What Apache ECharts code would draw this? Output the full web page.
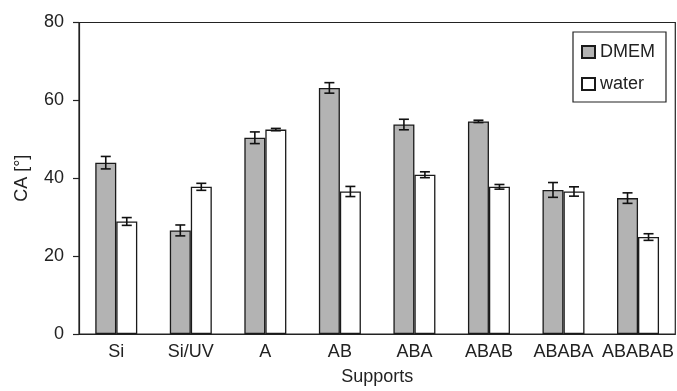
<!DOCTYPE html>
<html>
	<head>
		<meta charset="utf-8" />
		<title>CA</title>
		<style type="text/css">
			html,body{margin:0;padding:0;width:100%;height:100%;background:#fff;}
			#main{width:677px;height:391px;}
		</style>
	</head>
	<body>
		<div id="main"></div>
		<script src="https://cdn.jsdelivr.net/npm/echarts@6/dist/echarts.min.js"></script>
		<script>
			var categories = ['Si', 'Si/UV', 'A', 'AB', 'ABA', 'ABAB', 'ABABA', 'ABABAB'];
			var dmem = [44.0, 26.6, 50.4, 63.2, 53.8, 54.6, 37.0, 34.9];
			var dmemErr = [1.6, 1.4, 1.5, 1.35, 1.35, 0.3, 1.9, 1.35];
			var water = [28.9, 37.8, 52.5, 36.6, 40.9, 37.8, 36.6, 24.9];
			var waterErr = [1.0, 0.9, 0.3, 1.3, 0.75, 0.6, 1.2, 0.85];
			var yTicks = [0, 20, 40, 60, 80];

			var barW = 21;
			var font = 'Liberation Sans';

			function errData(vals, errs) {
				var out = [];
				for(var i = 0; i < vals.length; i++) {
					out.push([i, vals[i] - errs[i], vals[i] + errs[i]]);
				}
				return out;
			}

			// error bars drawn next to their bar, shifted by half a bar width
			function errRender(offset) {
				return function(params, api) {
					var i = api.value(0);
					var lo = api.coord([i, api.value(1)]);
					var hi = api.coord([i, api.value(2)]);
					var x = lo[0] + offset;
					var cap = 5;
					var st = {stroke: '#111', lineWidth: 1.6};
					return {
						type: 'group',
						children: [
							{type: 'line', shape: {x1: x, y1: lo[1], x2: x, y2: hi[1]}, style: st},
							{type: 'line', shape: {x1: x - cap, y1: lo[1], x2: x + cap, y2: lo[1]}, style: st},
							{type: 'line', shape: {x1: x - cap, y1: hi[1], x2: x + cap, y2: hi[1]}, style: st}
						]
					};
				};
			}

			var myChart = echarts.init(document.getElementById('main'));
			var option = {
				animation: false,
				textStyle: {fontFamily: font, color: '#222'},
				grid: {
					left: 79, right: 1, top: 22.5, bottom: 52.5,
					show: true, borderColor: '#222', borderWidth: 1.2
				},
				legend: {
					data: ['DMEM', 'water'],
					orient: 'vertical',
					left: 573, top: 32,
					padding: [11, 11, 9, 8],
					itemGap: 14,
					itemWidth: 13, itemHeight: 12,
					icon: 'rect',
					borderColor: '#222', borderWidth: 1.2,
					backgroundColor: '#fff',
					textStyle: {fontSize: 18, color: '#222', fontFamily: font}
				},
				xAxis: {
					type: 'category',
					data: categories,
					name: 'Supports',
					nameLocation: 'middle',
					nameGap: 34,
					nameTextStyle: {fontSize: 18, color: '#222'},
					axisLine: {lineStyle: {color: '#222', width: 1.2}},
					axisTick: {show: false},
					axisLabel: {fontSize: 18, color: '#222', margin: 9, interval: 0}
				},
				yAxis: {
					type: 'value',
					min: yTicks[0], max: yTicks[yTicks.length - 1], interval: 20,
					name: 'CA [°]',
					nameLocation: 'middle',
					nameGap: 48,
					nameTextStyle: {fontSize: 18, color: '#222'},
					axisLine: {show: true, lineStyle: {color: '#222', width: 1.2}},
					axisTick: {show: true, length: 6, lineStyle: {color: '#222', width: 1.2}},
					axisLabel: {fontSize: 18, color: '#222', margin: 15},
					splitLine: {show: false}
				},
				series: [{
					name: 'DMEM',
					type: 'bar',
					data: dmem,
					barWidth: barW,
					barGap: '0%',
					itemStyle: {color: '#b3b3b3', borderColor: '#1a1a1a', borderWidth: 1.3}
				}, {
					name: 'water',
					type: 'bar',
					data: water,
					barWidth: barW,
					barGap: '0%',
					itemStyle: {color: '#ffffff', borderColor: '#1a1a1a', borderWidth: 1.3}
				}, {
					type: 'custom',
					renderItem: errRender(-barW / 2),
					data: errData(dmem, dmemErr),
					encode: {x: 0, y: [1, 2]},
					z: 5
				}, {
					type: 'custom',
					renderItem: errRender(barW / 2),
					data: errData(water, waterErr),
					encode: {x: 0, y: [1, 2]},
					z: 5
				}]
			};
			myChart.setOption(option);
		</script>
	</body>
</html>
